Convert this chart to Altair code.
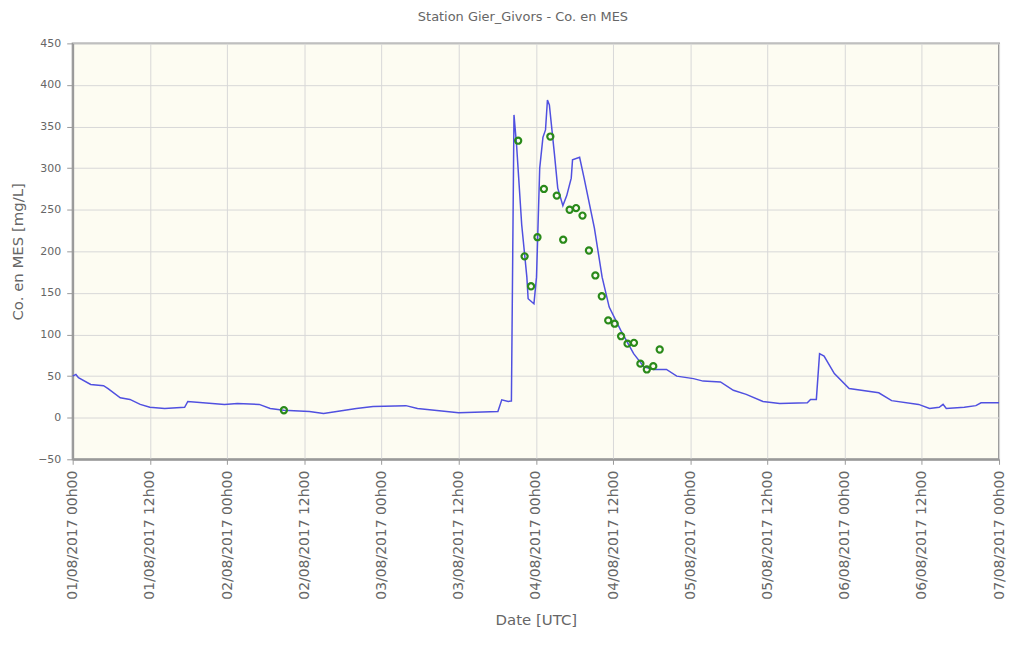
import altair as alt
import pandas as pd

# Continuous MES concentration (blue line)
line_time = [
    "2017-08-01T00:00", "2017-08-01T00:30", "2017-08-01T00:54", "2017-08-01T02:48",
    "2017-08-01T04:48", "2017-08-01T05:30", "2017-08-01T07:24", "2017-08-01T08:54",
    "2017-08-01T10:30", "2017-08-01T12:00", "2017-08-01T14:18", "2017-08-01T17:24",
    "2017-08-01T17:54", "2017-08-01T23:36", "2017-08-02T01:36", "2017-08-02T05:00",
    "2017-08-02T06:42", "2017-08-02T08:48", "2017-08-02T12:48", "2017-08-02T15:00",
    "2017-08-02T20:06", "2017-08-02T22:42", "2017-08-03T03:48", "2017-08-03T05:36",
    "2017-08-03T12:00", "2017-08-03T18:06", "2017-08-03T18:42", "2017-08-03T19:42",
    "2017-08-03T20:06", "2017-08-03T20:12", "2017-08-03T20:36", "2017-08-03T21:00",
    "2017-08-03T21:48", "2017-08-03T22:36", "2017-08-03T22:48", "2017-08-03T23:42",
    "2017-08-04T00:06", "2017-08-04T00:36", "2017-08-04T01:06", "2017-08-04T01:30",
    "2017-08-04T01:48", "2017-08-04T02:06", "2017-08-04T02:54", "2017-08-04T03:24",
    "2017-08-04T04:12", "2017-08-04T04:48", "2017-08-04T05:30", "2017-08-04T05:42",
    "2017-08-04T06:48", "2017-08-04T07:30", "2017-08-04T09:06", "2017-08-04T10:18",
    "2017-08-04T11:24", "2017-08-04T13:12", "2017-08-04T15:12", "2017-08-04T16:48",
    "2017-08-04T18:18", "2017-08-04T20:18", "2017-08-04T21:54", "2017-08-05T00:30",
    "2017-08-05T02:00", "2017-08-05T04:42", "2017-08-05T06:42", "2017-08-05T08:42",
    "2017-08-05T11:18", "2017-08-05T13:54", "2017-08-05T18:12", "2017-08-05T18:42",
    "2017-08-05T19:36", "2017-08-05T20:06", "2017-08-05T20:48", "2017-08-05T22:24",
    "2017-08-06T00:42", "2017-08-06T05:18", "2017-08-06T07:18", "2017-08-06T11:30",
    "2017-08-06T13:12", "2017-08-06T14:42", "2017-08-06T15:18", "2017-08-06T15:48",
    "2017-08-06T18:36", "2017-08-06T20:24", "2017-08-06T21:12", "2017-08-07T00:00",
]
line_value = [
    50, 52, 48, 40,
    38.5, 35, 24, 22,
    16, 12.5, 11, 12.5,
    19.5, 16, 17, 16,
    11, 9, 7.5, 5,
    11, 13.5, 14.5, 11,
    6, 7.5, 21.5, 19.5,
    20, 20, 364, 328,
    232, 169, 143, 137,
    169, 300, 337, 346,
    382, 376, 316, 276,
    255, 267, 288, 310,
    313, 288, 228, 169,
    133, 105, 77, 61,
    58, 58, 50, 47,
    44, 43, 33, 28,
    19.5, 17, 18, 22,
    22, 77, 74, 53,
    35, 30, 20.5, 16,
    11, 12.5, 16, 11,
    12.5, 14.5, 18, 18,
]

# Lab samples (green circles)
sample_time = [
    "2017-08-02T08:50",
    "2017-08-03T21:15", "2017-08-03T22:15", "2017-08-03T23:15", "2017-08-04T00:15",
    "2017-08-04T01:15", "2017-08-04T02:15", "2017-08-04T03:15", "2017-08-04T04:15",
    "2017-08-04T05:15", "2017-08-04T06:15", "2017-08-04T07:15", "2017-08-04T08:15",
    "2017-08-04T09:15", "2017-08-04T10:15", "2017-08-04T11:15", "2017-08-04T12:15",
    "2017-08-04T13:15", "2017-08-04T14:15", "2017-08-04T15:15", "2017-08-04T16:15",
    "2017-08-04T17:15", "2017-08-04T18:15", "2017-08-04T19:15",
]
sample_value = [
    9,
    333, 194, 158, 217,
    275, 338, 267, 214,
    250, 252, 243, 201,
    171, 146, 117, 113,
    98, 89, 90, 65,
    58, 62, 82,
]

# Axis tick days / hours (every 12 h)
tick_days = [1, 1, 2, 2, 3, 3, 4, 4, 5, 5, 6, 6, 7]
tick_hours = [0, 12, 0, 12, 0, 12, 0, 12, 0, 12, 0, 12, 0]
y_ticks = [-50, 0, 50, 100, 150, 200, 250, 300, 350, 400, 450]

line_df = pd.DataFrame({"t": line_time, "v": line_value})
pt_df = pd.DataFrame({"t": sample_time, "v": sample_value})

FONT = "DejaVu Sans"
GREY = "#666666"

x_ticks = [alt.DateTime(year=2017, month=8, date=d, hours=h) for d, h in zip(tick_days, tick_hours)]

x_enc = alt.X(
    "t:T",
    scale=alt.Scale(domain=[x_ticks[0], x_ticks[-1]]),
    axis=alt.Axis(
        title="Date [UTC]",
        values=x_ticks,
        format="%d/%m/%Y  %Hh%M",
        labelAngle=-90,
        labelFont=FONT,
        labelFontSize=14,
        labelColor=GREY,
        labelPadding=6,
        tickSize=5,
        tickColor="#999999",
        domainColor="#999999",
        domainWidth=2,
        titleFont=FONT,
        titleFontSize=15,
        titleFontWeight="normal",
        titleColor=GREY,
        titlePadding=9,
        gridColor="#d8d8d8",
        labelFlush=False,
        labelOverlap=False,
    ),
)
y_enc = alt.Y(
    "v:Q",
    scale=alt.Scale(domain=[-50, 450], nice=False, zero=False),
    axis=alt.Axis(
        title="Co. en MES [mg/L]",
        values=y_ticks,
        labelFont=FONT,
        labelFontSize=11,
        labelColor=GREY,
        labelPadding=6,
        tickSize=6,
        tickColor="#999999",
        domainColor="#999999",
        domainWidth=2,
        titleFont=FONT,
        titleFontSize=15,
        titleFontWeight="normal",
        titleColor=GREY,
        titlePadding=12,
        gridColor="#d8d8d8",
    ),
)

line = alt.Chart(line_df).mark_line(color="#5050e0", strokeWidth=1.5).encode(x=x_enc, y=y_enc)
points = alt.Chart(pt_df).mark_point(
    shape="circle", filled=False, color="#2a8a1a", strokeWidth=2.2, size=38, opacity=1
).encode(x="t:T", y="v:Q")

chart = (
    alt.layer(line, points)
    .properties(
        width=931,
        height=418,
        title=alt.TitleParams(
            "Station Gier_Givors - Co. en MES",
            font=FONT,
            fontSize=13,
            fontWeight="normal",
            color=GREY,
            offset=13,
            dx=-13,
        ),
        padding={"left": 2, "top": 2, "right": 0, "bottom": 0},
        background="white",
    )
    .configure_view(fill="#fdfcf2", stroke="#999999", strokeWidth=2)
)

chart.save("out.html", embed_options={"renderer": "svg", "actions": False})
